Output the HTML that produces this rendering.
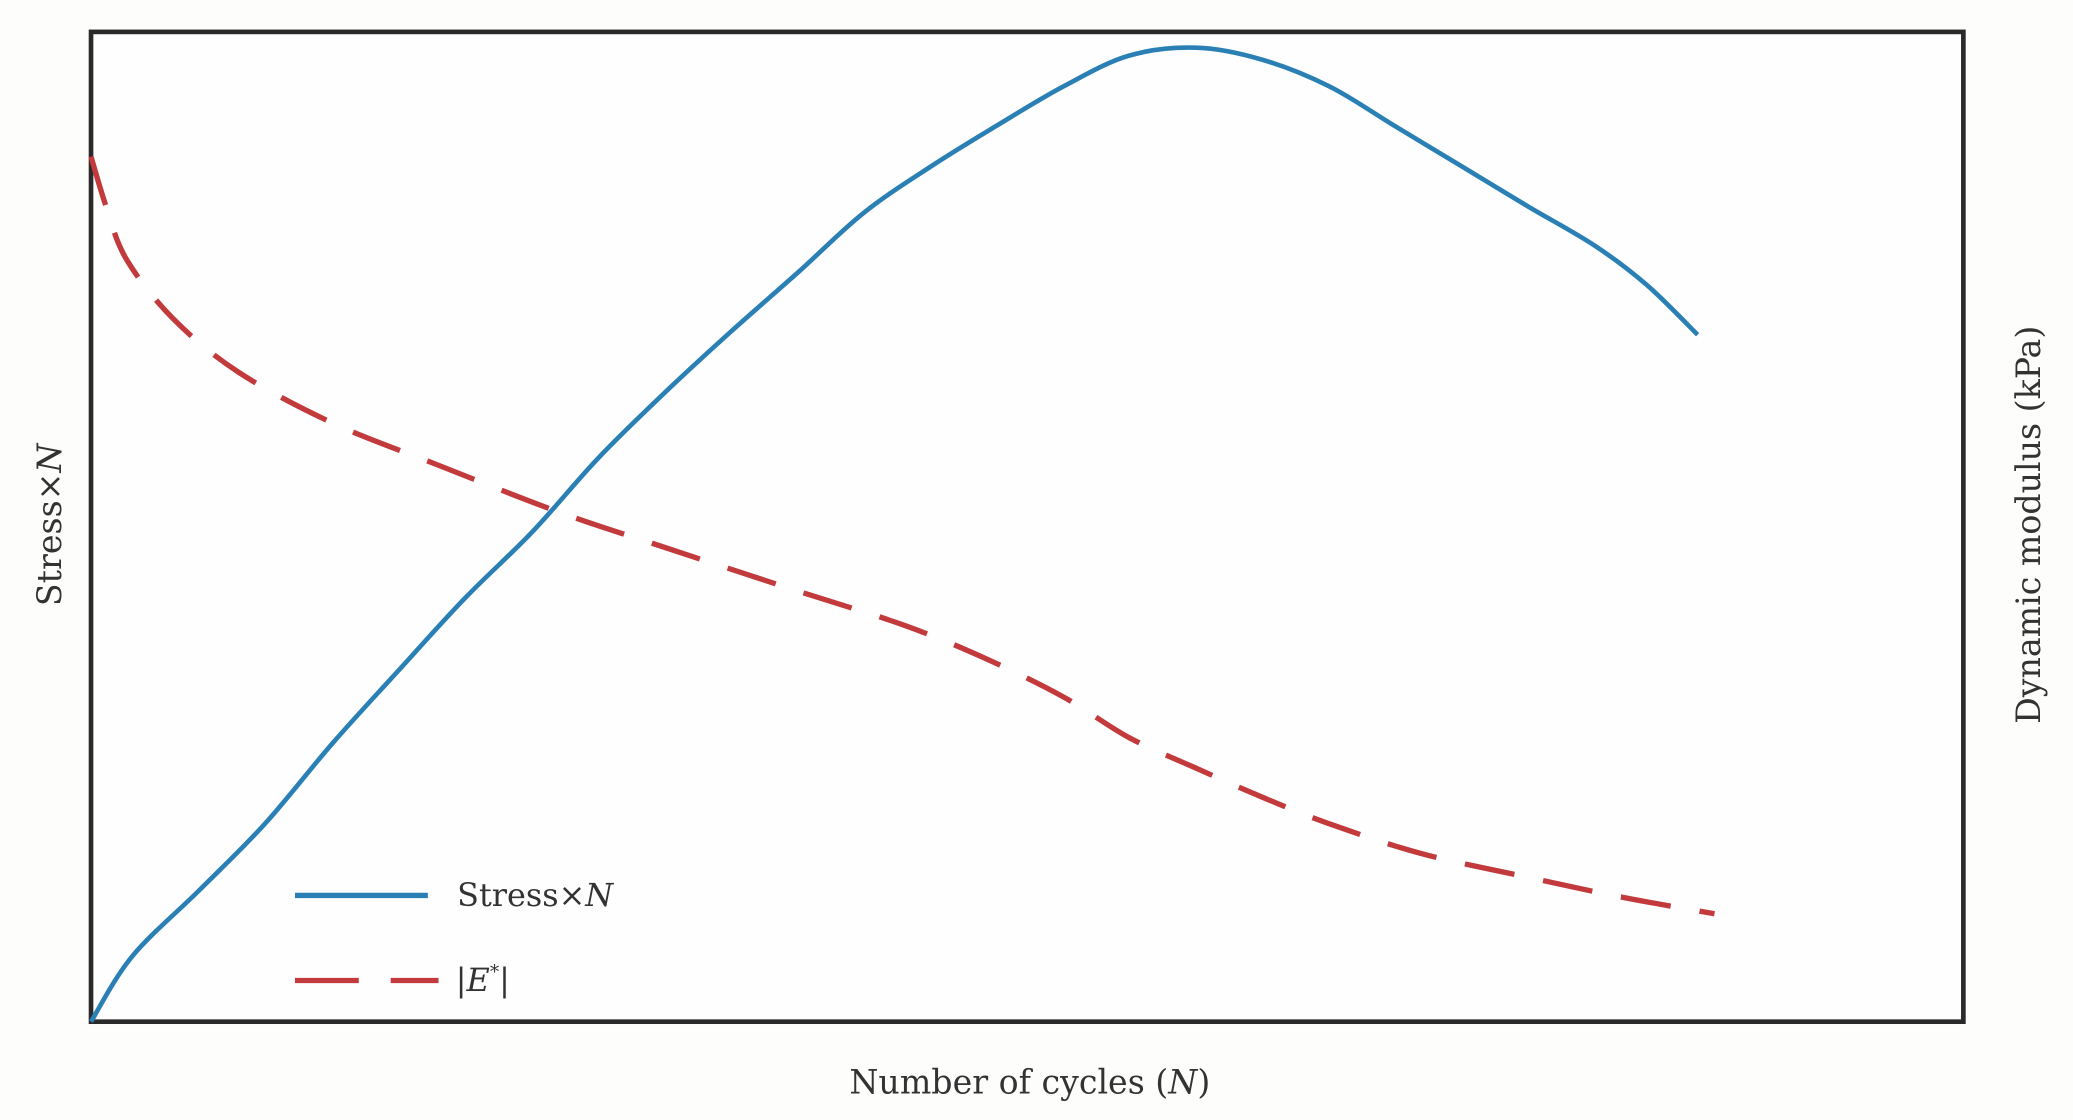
<!DOCTYPE html>
<html><head><meta charset="utf-8"><style>
html,body{margin:0;padding:0;background:#fdfdfc;}
svg{display:block;}
text{font-family:"DejaVu Serif","Liberation Serif",serif;fill:#333;}
</style></head><body>
<svg id="chart" width="2073" height="1120" viewBox="0 0 1560 843" preserveAspectRatio="none" xmlns="http://www.w3.org/2000/svg">
<rect x="0" y="0" width="1560" height="843" fill="#fdfdfc"/>
<rect x="68.5" y="24" width="1409" height="745" fill="#fefefe" stroke="#2a2a2a" stroke-width="3.5"/>
<g id="series"></g>
<g>
<line x1="222" y1="674" x2="322" y2="674" stroke="#2a80b4" stroke-width="4"/>
<text x="344" y="682" font-size="24">Stress×<tspan font-style="italic">N</tspan></text>
<line x1="222" y1="738" x2="330" y2="738" stroke="#c23a3c" stroke-width="4" stroke-dasharray="48,24"/>
<text x="343" y="746" font-size="24">|<tspan font-style="italic">E</tspan><tspan font-size="14" dy="-10">*</tspan><tspan dy="10">|</tspan></text>
</g>
<text x="775" y="823" font-size="25" text-anchor="middle">Number of cycles (<tspan font-style="italic">N</tspan>)</text>
<text transform="translate(46,395) rotate(-90)" font-size="25" text-anchor="middle">Stress×<tspan font-style="italic">N</tspan></text>
<text transform="translate(1535,395) rotate(-90)" font-size="25" text-anchor="middle">Dynamic modulus (kPa)</text>
</svg>
<script>
const stressX=[0,2.2,5.8,9.3,12.9,16.4,20,23.6,27.1,30.7,34.2,37.8,41.3,44.9,48.4,52,55.5,59.1,62.6,66.2,69.7,73.3,76.8,80.4,83.2,85.9];
const stressY=[0,6.6,13.3,20,28.1,35.4,42.8,49.5,56.9,63.6,69.7,75.7,81.7,86.4,90.5,94.5,97.6,98.4,97.2,94.5,90.5,86.4,82.4,78.4,74.4,69.4];
const modX=[0,0.8,1.9,4.4,7.9,12.9,18.6,25,30.7,37.8,43.4,47.7,52,55.5,59.1,62.6,66.2,71.1,76.8,81.8,86.8];
const modY=[87.4,82.4,77,71,65.6,60.5,56.2,51.5,47.9,43.5,40.1,36.8,32.8,28.7,25.6,22.7,20,17,14.6,12.6,10.9];
function xs(v){return 68.5+v/100*1407.5;}
function ys(v){return 769-v/100*745;}
function pathFrom(X,Y){
  const p=X.map((x,i)=>[xs(x),ys(Y[i])]);
  let d='M'+p[0][0]+','+p[0][1];
  for(let i=0;i<p.length-1;i++){
    const p0=p[Math.max(0,i-1)],p1=p[i],p2=p[i+1],p3=p[Math.min(p.length-1,i+2)];
    const c1=[p1[0]+(p2[0]-p0[0])/6,p1[1]+(p2[1]-p0[1])/6];
    const c2=[p2[0]-(p3[0]-p1[0])/6,p2[1]-(p3[1]-p1[1])/6];
    d+=' C'+c1[0]+','+c1[1]+' '+c2[0]+','+c2[1]+' '+p2[0]+','+p2[1];
  }
  return d;
}
const g=document.getElementById('series');
const ns='http://www.w3.org/2000/svg';
const a=document.createElementNS(ns,'path');
a.setAttribute('d',pathFrom(modX,modY));
a.setAttribute('fill','none');a.setAttribute('stroke','#c23a3c');a.setAttribute('stroke-width','4');
a.setAttribute('stroke-dasharray','38,22');


g.appendChild(a);
const b=document.createElementNS(ns,'path');
b.setAttribute('d',pathFrom(stressX,stressY));
b.setAttribute('fill','none');b.setAttribute('stroke','#2a80b4');b.setAttribute('stroke-width','3.5');


g.appendChild(b);
</script>
</body></html>
